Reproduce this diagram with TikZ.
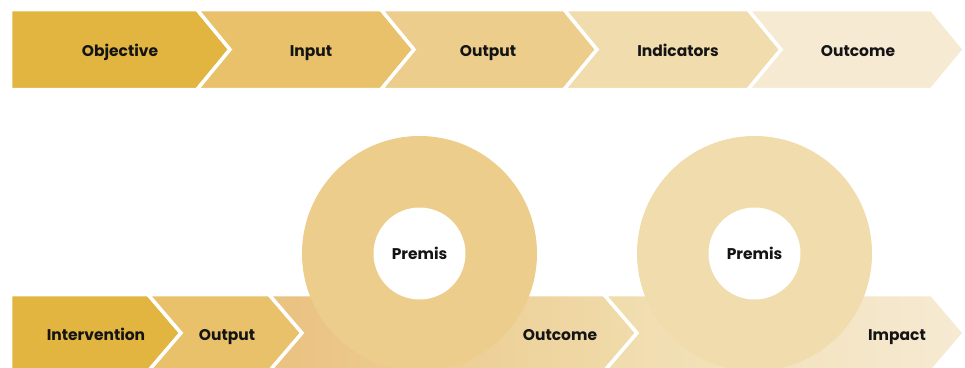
\documentclass[tikz,border=0pt]{standalone}
\usepackage{fontspec}
\setmainfont{Poppins}
\usetikzlibrary{positioning}
\definecolor{gA}{RGB}{226,180,64}
\definecolor{gB}{RGB}{232,193,106}
\definecolor{gC}{RGB}{236,205,139}
\definecolor{gD}{RGB}{240,220,172}
\definecolor{gE}{RGB}{246,234,211}
\definecolor{peach}{RGB}{234,193,128}
\definecolor{ink}{RGB}{20,20,20}
% chevron with notch: left x, tip x, top y, bottom y
\newcommand{\chevpath}[4]{(#1,#3) -- ({#2-33},#3) -- (#2,{(#3+#4)/2}) -- ({#2-33},#4) -- (#1,#4) -- ({#1+33},{(#3+#4)/2}) -- cycle}
\tikzset{
  chev/.style={draw=white,line width=3.5pt,line join=miter},
  lbl/.style={text=ink,font=\bfseries\fontsize{15.5}{18}\selectfont,inner sep=0pt,
    text height=11pt,text depth=0pt,anchor=center},
  ring/.style={circle,minimum size=235pt,inner sep=0pt},
  hole/.style={circle,fill=white,minimum size=92pt,inner sep=0pt,lbl},
}
\begin{document}
\begin{tikzpicture}[x=1pt,y=-1pt]
\clip (0,0) rectangle (965,367);
\useasboundingbox (0,0) rectangle (965,367);
% top row
\draw[chev,fill=gA] (10.5,9.5) -- (197,9.5) -- (230,49.5) -- (197,89.5) -- (10.5,89.5) -- cycle;
\draw[chev,fill=gB] \chevpath{197}{414}{9.5}{89.5};
\draw[chev,fill=gC] \chevpath{381}{597}{9.5}{89.5};
\draw[chev,fill=gD] \chevpath{564}{781}{9.5}{89.5};
\draw[chev,fill=gE] \chevpath{748}{964.5}{9.5}{89.5};
\node[lbl] (obj) at (120,50.5) {Objective};
\node[lbl] (inp) at (311,50.5) {Input};
\node[lbl] (outA) at (488,50.5) {Output};
\node[lbl] (ind) at (678,50.5) {Indicators};
\node[lbl] (outcA) at (858,50.5) {Outcome};
% bottom row
\draw[chev,fill=gA] (10.5,294.5) -- (148,294.5) -- (181,333) -- (148,371.5) -- (10.5,371.5) -- cycle;
\draw[chev,fill=gB] \chevpath{148}{302}{294.5}{371.5};
\draw[chev,left color=peach,right color=gD!95!gC] \chevpath{269}{637}{294.5}{371.5};
\draw[chev,left color=gD,right color=gE] \chevpath{604}{964.5}{294.5}{371.5};
% premis rings
\node[ring,fill=gC] (ringA) at (419.5,253.5) {};
\node[ring,fill=gD] (ringB) at (754.5,253.5) {};
\node[hole] (premA) at (ringA) {Premis};
\node[hole] (premB) at (ringB) {Premis};
\node[lbl] (intv) at (96,334.5) {Intervention};
\node[lbl] (outB) at (227,334.5) {Output};
\node[lbl] (outcB) at (560,334.5) {Outcome};
\node[lbl] (imp) at (897,334.5) {Impact};
\end{tikzpicture}
\end{document}
